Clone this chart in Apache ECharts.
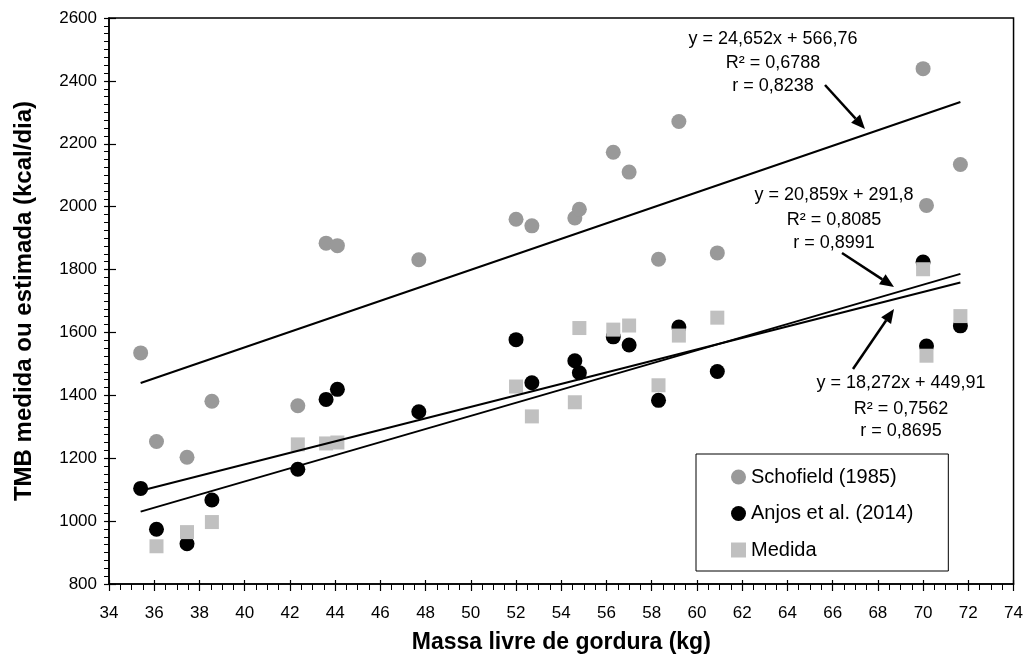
<!DOCTYPE html>
<html>
<head>
<meta charset="utf-8">
<script src="https://cdn.jsdelivr.net/npm/echarts@6/dist/echarts.min.js"></script>
<style>html,body{margin:0;padding:0;background:#fff}#c{width:1026px;height:659px}</style>
</head>
<body>
<div id="c"></div>
<script>
// ---- data ----
const massaLivre = [35.4, 36.1, 37.45, 38.55, 42.35, 43.6, 44.1, 47.7, 52.0, 52.7, 54.6, 54.8, 56.3, 57.0, 58.3, 59.2, 60.9, 70.0, 70.15, 71.65];
const schofield = [1535, 1253, 1203, 1381, 1367, 1884, 1876, 1831, 1960, 1939, 1964, 1992, 2173, 2110, 1833, 2271, 1853, 2439, 2004, 2134];
const anjos     = [1104, 974, 928, 1067, 1165, 1387, 1419, 1348, 1577, 1440, 1510, 1472, 1586, 1560, 1384, 1617, 1476, 1824, 1557, 1621];
const medida    = [null, 920, 965, 997, 1244, 1247, 1250, null, 1428, 1333, 1378, 1614, 1609, 1622, 1432, 1590, 1647, 1801, 1526, 1652];
const seriesNames = ['Schofield (1985)', 'Anjos et al. (2014)', 'Medida'];
// regression lines printed on the chart: [slope, intercept]
const trendSlope = [24.652, 20.859, 18.272];
const trendIntercept = [566.76, 291.8, 449.91];
const trendText = [
  ['y = 24,652x + 566,76', 'R² = 0,6788', 'r = 0,8238'],
  ['y = 20,859x + 291,8', 'R² = 0,8085', 'r = 0,8991'],
  ['y = 18,272x + 449,91', 'R² = 0,7562', 'r = 0,8695']
];
const xMin = 34, xMax = 74, xStep = 2;
const yMin = 800, yMax = 2600, yStep = 200;

const FONT = 'Liberation Sans, Arial, sans-serif';
function pairs(ys) { return massaLivre.map((x, i) => ys[i] == null ? null : [x, ys[i]]).filter(Boolean); }
const xLo = Math.min(...massaLivre), xHi = Math.max(...massaLivre);

const chart = echarts.init(document.getElementById('c'), null, {renderer: 'canvas'});

function arrow(x1, y1, x2, y2) {
  const a = Math.atan2(y2 - y1, x2 - x1);
  const L = 14, W = 6;
  const bx = x2 - L * Math.cos(a), by = y2 - L * Math.sin(a);
  return [
    {type: 'line', shape: {x1: x1, y1: y1, x2: bx, y2: by}, style: {stroke: '#000', lineWidth: 2.5}, z: 100},
    {type: 'polygon', shape: {points: [[x2, y2], [bx + W * Math.sin(a), by - W * Math.cos(a)], [bx - W * Math.sin(a), by + W * Math.cos(a)]]}, style: {fill: '#000'}, z: 100}
  ];
}
function textBlock(cx, ys, lines) {
  return lines.map((t, i) => ({
    type: 'text', x: cx, y: ys[i], z: 100,
    style: {text: t, fill: '#000', font: '18px ' + FONT, textAlign: 'center', textVerticalAlign: 'middle'}
  }));
}

const trendSeries = trendSlope.map((m, i) => ({
  type: 'line', name: 'trend' + i, silent: true, symbol: 'none', z: 5,
  lineStyle: {color: '#000', width: 2},
  data: [[xLo, m * xLo + trendIntercept[i]], [xHi, m * xHi + trendIntercept[i]]]
}));

const baseX = {type: 'value', min: xMin, max: xMax, interval: xStep, splitLine: {show: false}};
const baseY = {type: 'value', min: yMin, max: yMax, interval: yStep, splitLine: {show: false}};

chart.setOption({
  animation: false,
  backgroundColor: '#fff',
  grid: {left: 109, right: 12, top: 18, bottom: 73, show: true, borderColor: '#000', borderWidth: 1.5},
  xAxis: [Object.assign({}, baseX, {
    name: 'Massa livre de gordura (kg)', nameLocation: 'middle', nameGap: 47,
    nameTextStyle: {fontFamily: FONT, fontSize: 23, fontWeight: 'bold', color: '#000'},
    axisLine: {lineStyle: {color: '#000', width: 1.5}},
    axisTick: {length: 7, lineStyle: {color: '#000', width: 1.2}},
    minorTick: {show: true, splitNumber: 4, length: 6, lineStyle: {color: '#000', width: 1}},
    axisLabel: {fontFamily: FONT, fontSize: 17, color: '#000', margin: 21}
  }), Object.assign({}, baseX, {
    position: 'bottom', axisLine: {show: false}, axisLabel: {show: false},
    axisTick: {inside: true, length: 4, lineStyle: {color: '#000', width: 1.2}}
  })],
  yAxis: [Object.assign({}, baseY, {
    name: 'TMB medida ou estimada (kcal/dia)', nameLocation: 'middle', nameGap: 73,
    nameTextStyle: {fontFamily: FONT, fontSize: 24, fontWeight: 'bold', color: '#000'},
    axisLine: {lineStyle: {color: '#000', width: 1.5}},
    axisTick: {length: 5, lineStyle: {color: '#000', width: 1.2}},
    minorTick: {show: true, splitNumber: 8, length: 5, lineStyle: {color: '#000', width: 1}},
    axisLabel: {fontFamily: FONT, fontSize: 17, color: '#000', margin: 12, formatter: v => String(v)}
  }), Object.assign({}, baseY, {
    position: 'left', axisLine: {show: false}, axisLabel: {show: false},
    axisTick: {inside: true, length: 7, lineStyle: {color: '#000', width: 1.2}}
  })],
  legend: {
    data: [
      {name: seriesNames[0], icon: 'circle'},
      {name: seriesNames[1], icon: 'circle'},
      {name: seriesNames[2], icon: 'rect'}
    ],
    orient: 'vertical', left: 696, top: 454,
    itemWidth: 15, itemHeight: 15, itemGap: 16.5,
    padding: [13, 35, 11, 35],
    borderColor: '#000', borderWidth: 1, backgroundColor: '#fff',
    textStyle: {fontFamily: FONT, fontSize: 20, color: '#000'}
  },
  series: [
    {type: 'scatter', name: seriesNames[0], symbol: 'circle', symbolSize: 15, itemStyle: {color: '#999999', opacity: 1}, data: pairs(schofield), z: 2},
    {type: 'scatter', name: seriesNames[1], symbol: 'circle', symbolSize: 15, itemStyle: {color: '#000000', opacity: 1}, data: pairs(anjos), z: 3},
    {type: 'scatter', name: seriesNames[2], symbol: 'rect', symbolSize: 14, itemStyle: {color: '#c0c0c0', opacity: 1}, data: pairs(medida), z: 4}
  ].concat(trendSeries),
  graphic: [].concat(
    textBlock(773, [39, 63, 86], trendText[0]),
    arrow(825, 85, 865, 129),
    textBlock(834, [195, 220, 243], trendText[1]),
    arrow(842, 253, 894, 287),
    textBlock(901, [383, 409, 431], trendText[2]),
    arrow(853, 369, 894, 309)
  )
});
</script>
</body>
</html>
